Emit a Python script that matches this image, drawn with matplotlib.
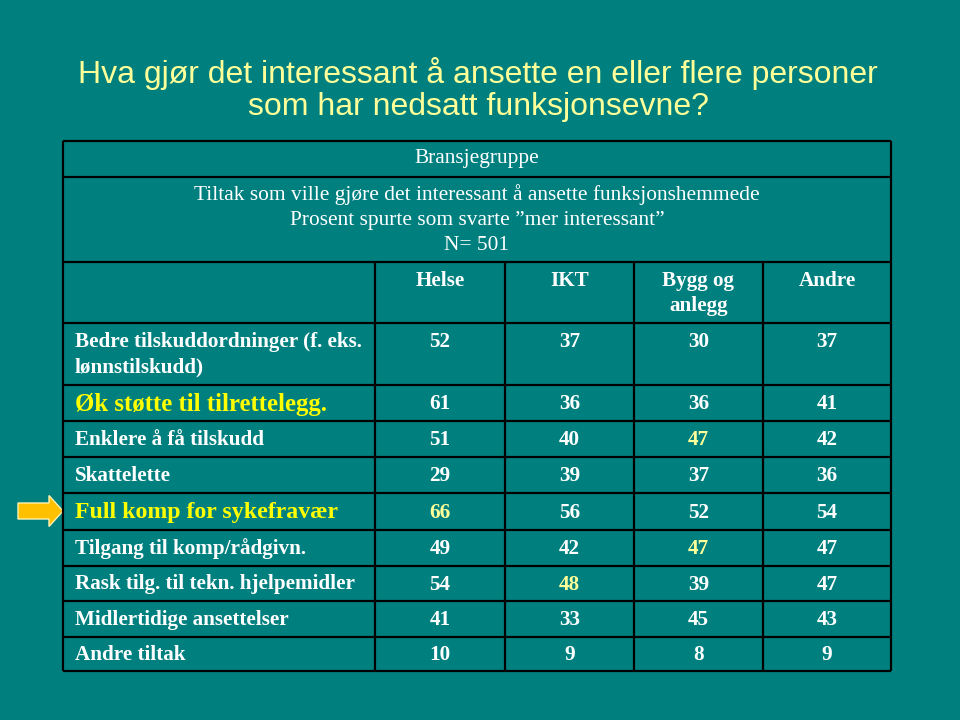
import matplotlib
matplotlib.use("Agg")
import matplotlib.pyplot as plt
from matplotlib.patches import FancyArrow

bg = "#007f7f"
title_col = "#ffff99"
hi_col = "#ffff00"
num_hi = "#ffff99"

title = ["Hva gjør det interessant å ansette en eller flere personer",
         "som har nedsatt funksjonsevne?"]
group_title = "Bransjegruppe"
subtitle = ["Tiltak som ville gjøre det interessant å ansette funksjonshemmede",
            "Prosent spurte som svarte \u201dmer interessant\u201d",
            "N= 501"]
columns = ["Helse", "IKT", "Bygg og\nanlegg", "Andre"]
rows = ["Bedre tilskuddordninger (f. eks.\nlønnstilskudd)",
        "Øk støtte til tilrettelegg.",
        "Enklere å få tilskudd",
        "Skattelette",
        "Full komp for sykefravær",
        "Tilgang til komp/rådgivn.",
        "Rask tilg. til tekn. hjelpemidler",
        "Midlertidige ansettelser",
        "Andre tiltak"]
helse = [52, 61, 51, 29, 66, 49, 54, 41, 10]
ikt = [37, 36, 40, 39, 56, 42, 48, 33, 9]
bygg = [30, 36, 47, 37, 52, 47, 39, 45, 8]
andre = [37, 41, 42, 36, 54, 47, 47, 43, 9]
hi_rows = {1: 17.8, 4: 17.2}
hi_cells = [(4, 0), (2, 2), (5, 2), (6, 1)]

# layout (pixels)
left, right = 63, 891
col_x = [375, 505, 634, 763, 891]
top = 141
head_lines = [177, 262, 323]
row_lines = [385, 421, 457, 493, 530, 566, 601, 637, 671]

fig = plt.figure(figsize=(9.6, 7.2), dpi=100)
fig.patch.set_facecolor(bg)
ax = fig.add_axes([0, 0, 1, 1])
ax.set_xlim(0, 960)
ax.set_ylim(720, 0)
ax.axis("off")

for k, t in enumerate(title):
    ax.text(478, 73 + 34 * k, t, ha="center", va="center", color=title_col,
            fontsize=23, family="Liberation Sans")

lw = 1.6
ys = [top] + head_lines + row_lines
ax.hlines(ys, left, right, color="black", lw=lw)
ax.vlines([left, right], top, row_lines[-1], color="black", lw=lw)
ax.vlines(col_x[:-1], head_lines[1], row_lines[-1], color="black", lw=lw)

serif = "Liberation Serif"
fs = 15.2
ax.text((left + right) / 2, 159, group_title, ha="center",
        va="center", color="white", fontsize=15.4, family=serif)
for i, s in enumerate(subtitle):
    ax.text((left + right) / 2, 195 + 25 * i, s, ha="center", va="center",
            color="white", fontsize=15.4, family=serif)

for j, c in enumerate(columns):
    cx = (col_x[j] + col_x[j + 1]) / 2
    for k, part in enumerate(c.split("\n")):
        ax.text(cx, 281 + 25 * k, part, ha="center", va="center", color="white",
                fontsize=fs, fontweight="bold", family=serif)

values = [helse, ikt, bygg, andre]
row_tops = [head_lines[-1]] + row_lines[:-1]
for i, r in enumerate(rows):
    y0, y1 = row_tops[i], row_lines[i]
    ty = 342 if i == 0 else (y0 + y1) / 2 + 1
    big = i in hi_rows
    for k, part in enumerate(r.split("\n")):
        ax.text(75, ty + 25 * k, part, ha="left", va="center",
                color=hi_col if big else "white",
                fontsize=hi_rows.get(i, fs), fontweight="bold", family=serif)
    for j in range(4):
        cx = (col_x[j] + col_x[j + 1]) / 2
        col = num_hi if (i, j) in hi_cells else "white"
        ax.text(cx, ty, str(values[j][i]), ha="center", va="center", color=col,
                fontsize=fs, fontweight="bold", family=serif)

arr = FancyArrow(18, 511, 31, 0, width=16, head_width=31, head_length=14,
                 length_includes_head=False, facecolor="#ffc000",
                 edgecolor="#fff2b0", lw=1)
ax.add_patch(arr)

fig.savefig("out.png", dpi=100, facecolor=bg)
